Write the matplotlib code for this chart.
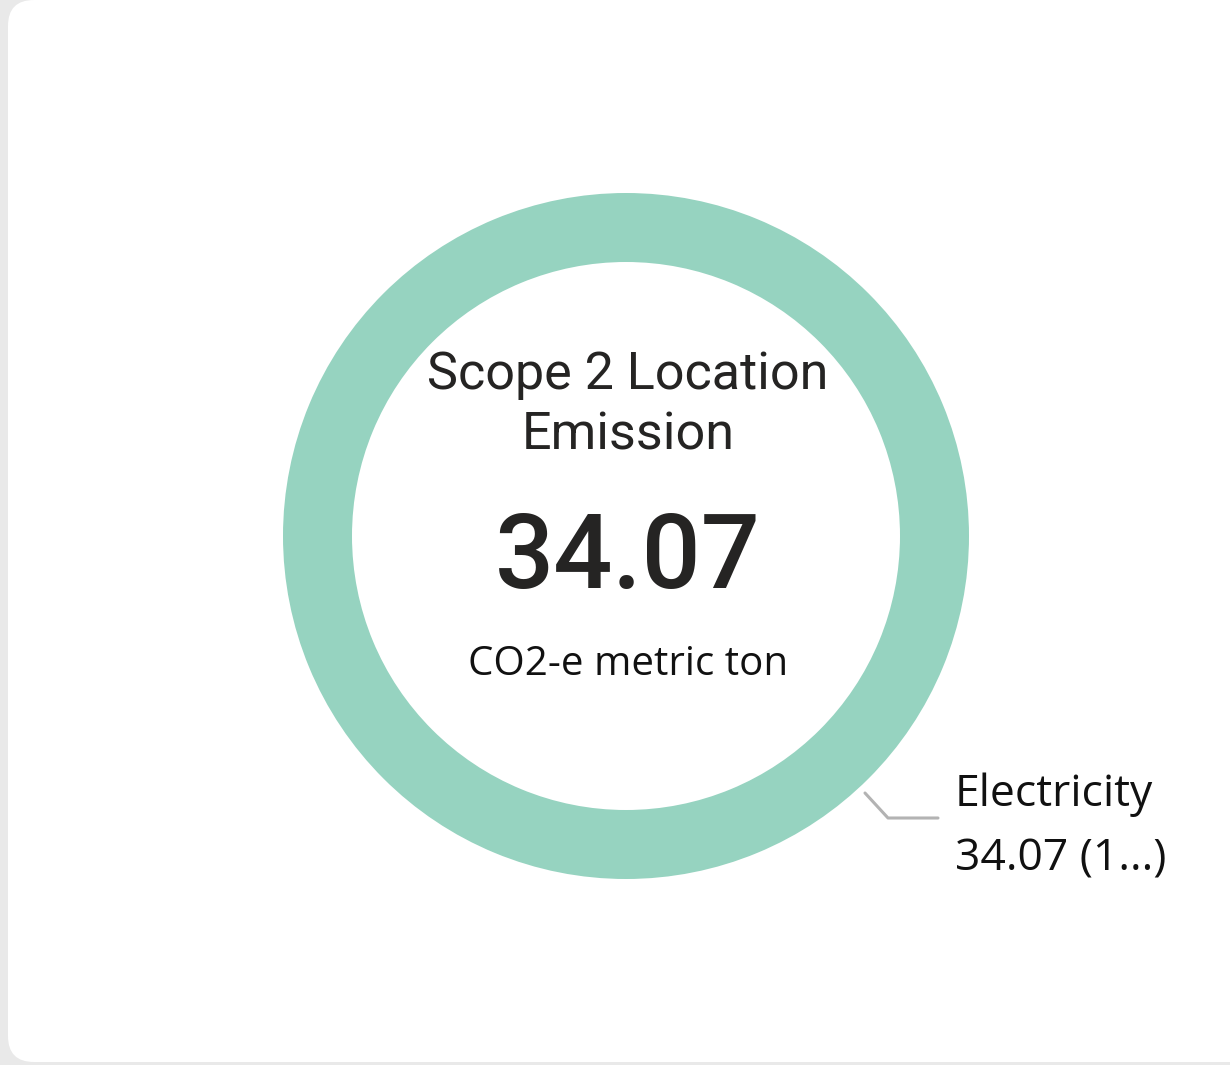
import matplotlib
matplotlib.use('Agg')
import matplotlib.pyplot as plt
from matplotlib.patches import FancyBboxPatch

# data
categories = ['Electricity']
values = [34.07]
title_lines = ['Scope 2 Location', 'Emission']
total_label = '34.07'
unit_label = 'CO2-e metric ton'
slice_labels = ['Electricity', '34.07 (1...)']

W, H = 1230, 1065
fig = plt.figure(figsize=(W / 100, H / 100), dpi=100, facecolor='#e9e9e9')
ax = fig.add_axes([0, 0, 1, 1])
ax.set_facecolor('#e9e9e9')

# white card
card = FancyBboxPatch((8, 0), 1250, 1062, boxstyle='round,pad=0,rounding_size=26',
                      facecolor='white', edgecolor='none', zorder=0)
ax.add_patch(card)

# donut
cx, cy, r = 626, 536, 343
ax.pie(values, colors=['#96d3c0'], radius=r, center=(cx, cy), startangle=90,
       wedgeprops=dict(width=69, edgecolor='none'), frame=True)

# leader line
ax.plot([865, 888, 938], [793, 818, 818], color='#b3b3b3', lw=2.2,
        solid_capstyle='round', zorder=3)

ax.text(955, 806, slice_labels[0], fontsize=32, family='Open Sans', color='#111111',
        ha='left', va='baseline')
ax.text(955, 870, slice_labels[1], fontsize=32, family='Open Sans', color='#111111',
        ha='left', va='baseline')

# center texts
ax.text(cx + 2, 389, title_lines[0], fontsize=37.5, family='Roboto',
        color='#252423', ha='center', va='baseline')
ax.text(cx + 2, 449, title_lines[1], fontsize=37.5, family='Roboto',
        color='#252423', ha='center', va='baseline')
ax.text(cx + 2, 588, total_label, fontsize=75, family='Roboto', fontweight='medium',
        color='#252423', ha='center', va='baseline')
ax.text(cx + 2, 675, unit_label, fontsize=29, family='Open Sans', color='#111111',
        ha='center', va='baseline')

ax.set_xlim(0, W)
ax.set_ylim(H, 0)
ax.set_aspect('equal')
ax.axis('off')

fig.savefig('out.png', dpi=100, facecolor=fig.get_facecolor())
